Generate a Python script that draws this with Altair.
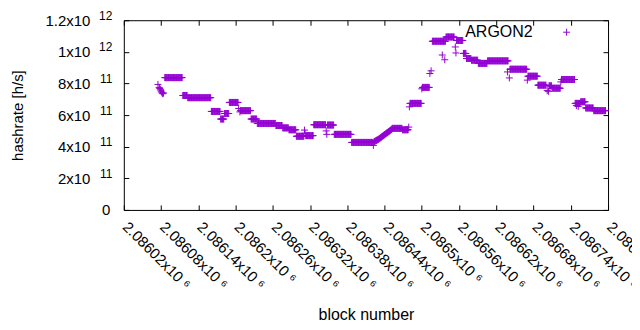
import altair as alt
import pandas as pd

FONT = "Liberation Sans"
COLOR = "#9400d3"

# plateaus: first block, last block, hashrate (x 1e11 h/s)
seg_start = [2086086, 2086115, 2086123, 2086161, 2086176, 2086182, 2086190, 2086208,
             2086225, 2086235, 2086265, 2086276, 2086286, 2086298, 2086313, 2086326,
             2086348, 2086359, 2086387, 2086453, 2086469, 2086481, 2086501, 2086517,
             2086539, 2086556, 2086567, 2086572, 2086580, 2086591, 2086606, 2086642,
             2086671, 2086687, 2086705, 2086710, 2086725, 2086747, 2086756, 2086764,
             2086777]
seg_end = [2086114, 2086122, 2086160, 2086175, 2086181, 2086189, 2086204, 2086224,
           2086234, 2086264, 2086275, 2086285, 2086297, 2086310, 2086325, 2086345,
           2086358, 2086386, 2086421, 2086468, 2086478, 2086499, 2086512, 2086538,
           2086552, 2086566, 2086571, 2086579, 2086590, 2086605, 2086639, 2086669,
           2086686, 2086700, 2086709, 2086723, 2086746, 2086755, 2086763, 2086776,
           2086796]
seg_value = [8.37, 7.24, 7.10, 6.23, 5.75, 6.10, 6.80, 6.28,
             5.75, 5.47, 5.34, 5.19, 5.07, 4.66, 4.70, 5.39,
             5.37, 4.78, 4.27, 5.16, 5.07, 6.74, 7.75, 10.67,
             10.94, 10.72, 9.90, 9.58, 9.47, 9.27, 9.43, 8.90,
             8.46, 7.89, 7.85, 7.70, 8.25, 6.74, 6.84, 6.45,
             6.28]

# isolated blocks (x 1e11 h/s)
pt_block = [2086075, 2086077, 2086078, 2086079, 2086080, 2086081, 2086082, 2086083, 2086084,
            2086205, 2086207, 2086311, 2086312, 2086346, 2086347, 2086422, 2086479, 2086480,
            2086500, 2086513, 2086515, 2086533, 2086537, 2086554, 2086555, 2086638, 2086641,
            2086670, 2086702, 2086704, 2086724, 2086749, 2086752]
pt_value = [7.94, 7.75, 7.68, 7.60, 7.52, 7.45, 7.38, 7.35, 7.40,
            6.42, 6.20, 5.05, 4.85, 5.00, 4.78, 4.08, 5.24, 6.52,
            7.66, 8.63, 8.80, 9.80, 9.50, 10.31, 9.93, 8.73, 8.35,
            8.21, 7.55, 7.50, 8.10, 6.60, 6.55]

# climb after block 2086423 (x 1e11 h/s)
ramp_start = 2086423
ramp_values = [4.30, 4.33, 4.36, 4.38, 4.40, 4.42, 4.44, 4.46, 4.49, 4.52,
               4.55, 4.58, 4.61, 4.64, 4.67, 4.70, 4.73, 4.76, 4.79, 4.82,
               4.85, 4.88, 4.90, 4.93, 4.96, 4.99, 5.02, 5.06, 5.10, 5.13]

x_ticks = list(range(2086020, 2086801, 60))
y_ticks = [0, 2e11, 4e11, 6e11, 8e11, 1e12, 1.2e12]

rows = []
for s, e, v in zip(seg_start, seg_end, seg_value):
    for b in range(s, e + 1):
        rows.append((b, v * 1e11))
for b, v in zip(pt_block, pt_value):
    rows.append((b, v * 1e11))
for i, v in enumerate(ramp_values):
    rows.append((ramp_start + i, v * 1e11))
df = pd.DataFrame(rows, columns=["block", "hashrate"])
df["series"] = "ARGON2"

PLUS = "M-1,0L1,0M0,-1L0,1"

xscale = alt.Scale(domain=[2086020, 2086800], nice=False, zero=False)
yscale = alt.Scale(domain=[0, 1.2e12], nice=False, zero=True)

base = alt.Chart(df)

main = base.mark_point(shape=PLUS, filled=False, strokeWidth=1, size=49, opacity=1).encode(
    x=alt.X("block:Q", scale=xscale, axis=alt.Axis(
        orient="bottom", values=x_ticks,
        labelExpr="format(datum.value/1e6, '.6~g') + 'x10 \u2076'",
        labelAngle=45, labelAlign="left", labelBaseline="top", labelPadding=9,
        labelOffset=6, labelFlush=False, labelOverlap=False,
        tickSize=5, offset=-5, domain=False, grid=False,
        title="block number", titleY=110, titleBaseline="middle", titleFontSize=16)),
    y=alt.Y("hashrate:Q", scale=yscale, axis=alt.Axis(
        orient="left", values=y_ticks,
        labelExpr="datum.value == 0 ? '0' : (datum.value >= 1e12 ? format(datum.value/1e12, '~g') : format(datum.value/1e11, '~g')) + 'x10'",
        labelPadding={"condition": {"test": "datum.value == 0", "value": 14}, "value": 34},
        labelFlush=False, labelOverlap=False,
        tickSize=5, offset=-5, domain=False, grid=False,
        title="hashrate [h/s]", titleX=-111, titleBaseline="middle", titleFontSize=15)),
    color=alt.Color("series:N", scale=alt.Scale(range=[COLOR]), legend=alt.Legend(
        title=None, orient="none", legendX=435.5, legendY=4, padding=0,
        symbolType=PLUS, symbolSize=49, symbolStrokeWidth=1, symbolStrokeColor=COLOR,
        labelAlign="right", labelOffset={"expr": "-42"}, labelFont=FONT, labelFontSize=16,
        labelColor="black")),
)

expo = base.mark_point(opacity=0).encode(
    x=alt.X("block:Q", scale=xscale, axis=None),
    y=alt.Y("hashrate:Q", scale=yscale, axis=alt.Axis(
        orient="left", values=y_ticks,
        labelExpr="datum.value == 0 ? '' : (datum.value >= 1e12 ? '12' : '11')",
        labelFontSize=12, labelPadding=12, labelOffset=-5,
        labelFlush=False, labelOverlap=False,
        tickSize=5, tickOpacity=0, offset=-5, domain=False, grid=False, title=None)),
)

mirror = base.mark_point(opacity=0).encode(
    x=alt.X("block:Q", scale=xscale, axis=alt.Axis(
        orient="top", values=x_ticks, labels=False, tickSize=5, offset=-5,
        domain=False, grid=False, title=None)),
    y=alt.Y("hashrate:Q", scale=yscale, axis=alt.Axis(
        orient="right", values=y_ticks, labels=False, tickSize=5, offset=-5,
        domain=False, grid=False, title=None)),
)

chart = alt.layer(main, expo, mirror).resolve_axis(
    x="independent", y="independent"
).properties(
    width=485, height=190,
    autosize=alt.AutoSizeParams(type="none"),
    padding={"left": 116, "top": 12, "right": 24, "bottom": 112},
).configure_view(
    stroke="black", strokeWidth=1
).configure_axis(
    labelFont=FONT, titleFont=FONT, labelFontSize=15, titleFontSize=15,
    labelColor="black", titleColor="black", tickColor="black", tickWidth=1,
    titleFontWeight="normal",
)

chart.save("out.html", embed_options={"renderer": "svg", "actions": False})
